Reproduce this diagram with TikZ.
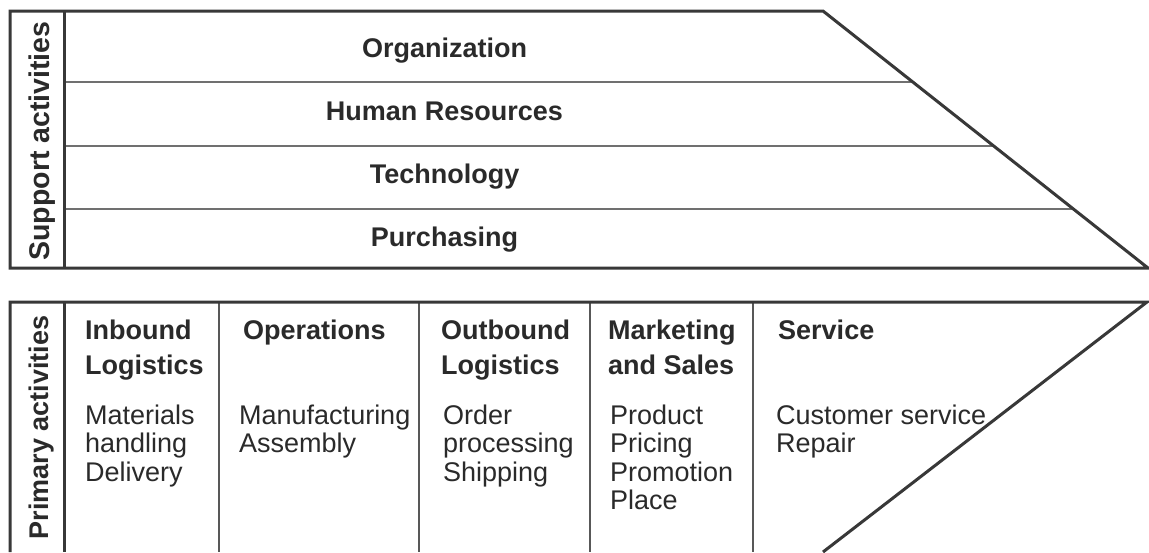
\documentclass[tikz,border=0pt]{standalone}
\usepackage{fontspec}
\setmainfont{Liberation Sans}
\definecolor{ink}{HTML}{2A2A2A}
\definecolor{frame}{HTML}{383838}
\definecolor{rule}{HTML}{707070}
\definecolor{divider}{HTML}{585858}
\begin{document}
\begin{tikzpicture}[x=1pt,y=-1pt,
  outer/.style={draw=frame,line width=3pt,line join=miter},
  hrule/.style={draw=rule,line width=2pt},
  vrule/.style={draw=divider,line width=2pt},
  head/.style={font=\fontsize{27}{30}\selectfont\bfseries,text=ink,inner sep=0pt,anchor=base west},
  body/.style={font=\fontsize{27}{30}\selectfont,text=ink,inner sep=0pt,anchor=base west},
  ctr/.style={font=\fontsize{27}{30}\selectfont\bfseries,text=ink,inner sep=0pt,anchor=base},
  side/.style={font=\fontsize{27}{30}\selectfont\bfseries,text=ink,inner sep=0pt,anchor=base,rotate=90}]
\useasboundingbox[fill=white] (0,0) rectangle (1149,552);
% ---------- support activities block ----------
\coordinate (tl) at (10,11);
\coordinate (tr) at (823,11);
\coordinate (br) at (1148,268);
\coordinate (bl) at (10,268);
\coordinate (c1) at (64,11);
\coordinate (c2) at (64,268);
\coordinate (h1l) at (64,82);   \coordinate (h1r) at (912.8,82);
\coordinate (h2l) at (64,146);  \coordinate (h2r) at (993.7,146);
\coordinate (h3l) at (64,209);  \coordinate (h3r) at (1073.4,209);
\draw[hrule] (h1l) -- (h1r);
\draw[hrule] (h2l) -- (h2r);
\draw[hrule] (h3l) -- (h3r);
\draw[outer] (c1) -- (c2);
\draw[outer] (tl) -- (tr) -- (br) -- (bl) -- cycle;
\node[ctr] (org) at (444.5,57) {Organization};
\node[ctr] (hr) at (444.5,120.5) {Human Resources};
\node[ctr] (tech) at (444.5,183) {Technology};
\node[ctr] (purch) at (444.5,246) {Purchasing};
\node[side,font=\fontsize{28.5}{30}\selectfont\bfseries] (sup) at (49,141) {Support activities};
% ---------- primary activities block ----------
\coordinate (pbl) at (10,552);
\coordinate (ptl) at (10,302);
\coordinate (ptr) at (1147,302);
\coordinate (pbr) at (823,552);
\foreach \x/\n in {219/a,419/b,590/c,753/d}{
  \coordinate (v\n t) at (\x,302);
  \coordinate (v\n b) at (\x,552);
  \draw[vrule] (v\n t) -- (v\n b);
}
\coordinate (pc1) at (64,302);
\coordinate (pc2) at (64,552);
\draw[outer] (pc1) -- (pc2);
\draw[outer] (pbl) -- (ptl) -- (ptr) -- (pbr);
\node[side] (prim) at (48,427.5) {Primary activities};
% column 1
\node[head] (in1) at (85,339) {Inbound};
\node[head] (in2) at (85,374) {Logistics};
\node[body] (in3) at (85,424) {Materials};
\node[body] (in4) at (85,452.5) {handling};
\node[body] (in5) at (85,481) {Delivery};
% column 2
\node[head] (op1) at (243,339) {Operations};
\node[body] (op2) at (239,424) {Manufacturing};
\node[body] (op3) at (239,452.5) {Assembly};
% column 3
\node[head] (ob1) at (441,339) {Outbound};
\node[head] (ob2) at (441,374) {Logistics};
\node[body] (ob3) at (443,424) {Order};
\node[body] (ob4) at (443,452.5) {processing};
\node[body] (ob5) at (443,481) {Shipping};
% column 4
\node[head] (ms1) at (608,339) {Marketing};
\node[head] (ms2) at (608,374) {and Sales};
\node[body] (ms3) at (610,424) {Product};
\node[body] (ms4) at (610,452.5) {Pricing};
\node[body] (ms5) at (610,481) {Promotion};
\node[body] (ms6) at (610,509.5) {Place};
% column 5
\node[head] (sv1) at (778,339) {Service};
\node[body] (sv2) at (776,424) {Customer service};
\node[body] (sv3) at (776,452.5) {Repair};
\end{tikzpicture}
\end{document}
